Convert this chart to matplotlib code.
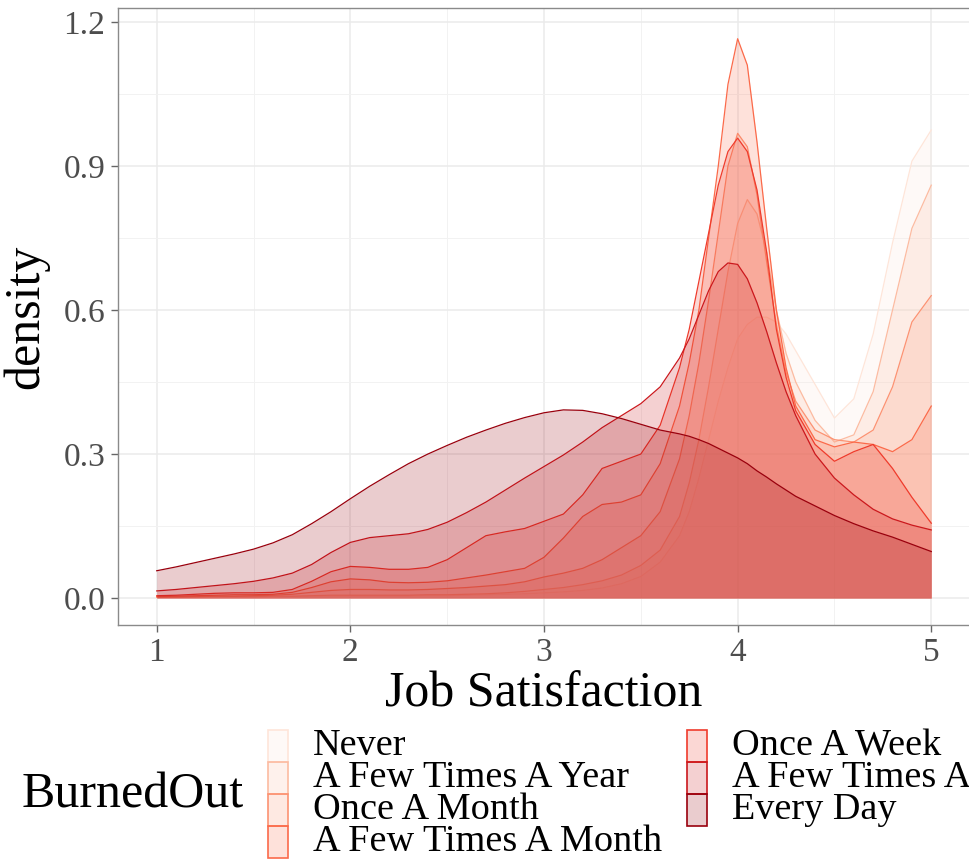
import matplotlib
matplotlib.use("Agg")
import matplotlib.pyplot as plt
from matplotlib.patches import Rectangle
from matplotlib.ticker import MultipleLocator

# Job Satisfaction grid the densities were read at
x = [1.0, 1.1, 1.2, 1.3, 1.4, 1.5, 1.6, 1.7, 1.8, 1.9, 2.0,
     2.1, 2.2, 2.3, 2.4, 2.5, 2.6, 2.7, 2.8, 2.9, 3.0,
     3.1, 3.2, 3.3, 3.4, 3.5, 3.6, 3.7,
     3.75, 3.8, 3.85, 3.9, 3.95, 4.0, 4.05, 4.1, 4.15, 4.2, 4.25, 4.3,
     4.4, 4.5, 4.6, 4.7, 4.8, 4.9, 5.0]

never = [0.002, 0.002, 0.002, 0.002, 0.002, 0.002, 0.002, 0.003, 0.003, 0.003, 0.004,
         0.004, 0.004, 0.004, 0.005, 0.005, 0.006, 0.007, 0.008, 0.009, 0.011,
         0.013, 0.016, 0.021, 0.03, 0.045, 0.075, 0.13,
         0.18, 0.25, 0.33, 0.41, 0.48, 0.54, 0.57, 0.585, 0.585, 0.575, 0.55, 0.515,
         0.445, 0.375, 0.415, 0.55, 0.74, 0.91, 0.975]
few_year = [0.003, 0.003, 0.003, 0.003, 0.003, 0.003, 0.004, 0.004, 0.005, 0.006, 0.006,
            0.006, 0.006, 0.006, 0.007, 0.007, 0.008, 0.009, 0.011, 0.014, 0.018,
            0.022, 0.028, 0.036, 0.048, 0.068, 0.1, 0.17,
            0.24, 0.33, 0.44, 0.56, 0.68, 0.78, 0.83, 0.8, 0.72, 0.6, 0.51, 0.45,
            0.37, 0.325, 0.34, 0.43, 0.6, 0.77, 0.86]
once_month = [0.002, 0.002, 0.003, 0.004, 0.004, 0.005, 0.006, 0.008, 0.012, 0.016, 0.018,
              0.018, 0.017, 0.017, 0.018, 0.02, 0.022, 0.025, 0.028, 0.034, 0.044,
              0.052, 0.062, 0.08, 0.105, 0.13, 0.18, 0.29,
              0.38, 0.49, 0.62, 0.76, 0.9, 0.968, 0.94, 0.84, 0.7, 0.57, 0.47, 0.41,
              0.35, 0.33, 0.325, 0.35, 0.44, 0.575, 0.63]
few_month = [0.003, 0.004, 0.005, 0.006, 0.007, 0.007, 0.008, 0.012, 0.022, 0.034, 0.04,
             0.038, 0.033, 0.032, 0.033, 0.036, 0.042, 0.048, 0.055, 0.062, 0.085,
             0.125, 0.17, 0.195, 0.2, 0.215, 0.28, 0.4,
             0.49, 0.6, 0.75, 0.9, 1.07, 1.165, 1.11, 0.95, 0.77, 0.6, 0.48, 0.4,
             0.33, 0.315, 0.325, 0.32, 0.305, 0.33, 0.40]
once_week = [0.005, 0.006, 0.008, 0.01, 0.011, 0.011, 0.012, 0.018, 0.035, 0.055, 0.066,
             0.064, 0.06, 0.06, 0.064, 0.08, 0.105, 0.13, 0.138, 0.145, 0.16,
             0.175, 0.215, 0.27, 0.285, 0.3, 0.36, 0.48,
             0.56, 0.66, 0.76, 0.86, 0.93, 0.958, 0.93, 0.85, 0.72, 0.56, 0.46, 0.39,
             0.32, 0.285, 0.305, 0.32, 0.27, 0.21, 0.156]
few_week = [0.015, 0.018, 0.022, 0.026, 0.03, 0.035, 0.042, 0.052, 0.07, 0.095, 0.116,
            0.126, 0.13, 0.134, 0.143, 0.158, 0.178, 0.2, 0.225, 0.25, 0.274,
            0.298, 0.325, 0.355, 0.38, 0.405, 0.44, 0.5,
            0.54, 0.59, 0.64, 0.68, 0.698, 0.695, 0.665, 0.615, 0.555, 0.49, 0.43, 0.38,
            0.3, 0.25, 0.215, 0.185, 0.165, 0.152, 0.142]
every_day = [0.057, 0.065, 0.074, 0.083, 0.092, 0.102, 0.115, 0.132, 0.155, 0.18, 0.207,
             0.233, 0.257, 0.28, 0.3, 0.318, 0.335, 0.35, 0.364, 0.376, 0.386,
             0.392, 0.391, 0.384, 0.374, 0.362, 0.35, 0.342,
             0.337, 0.33, 0.322, 0.312, 0.302, 0.292, 0.28, 0.265, 0.252, 0.238, 0.225, 0.212,
             0.192, 0.172, 0.155, 0.14, 0.127, 0.112, 0.097]

levels = ["Never", "A Few Times A Year", "Once A Month", "A Few Times A Month",
          "Once A Week", "A Few Times A Week", "Every Day"]
series = [never, few_year, once_month, few_month, once_week, few_week, every_day]
colors = ["#FEE5D9", "#FCBBA1", "#FC9272", "#FB6A4A", "#EF3B2C", "#CB181D", "#99000D"]
alpha = 0.2

W, H = 969, 859
fig = plt.figure(figsize=(W / 100, H / 100), dpi=100)
plt.rcParams["font.family"] = ["Liberation Serif", "DejaVu Serif"]


def fx(px):
    return px / W


def fy(py):
    # py measured from the top of the image
    return 1 - py / H


left, right, top, bottom = 118, 970, 8, 625
ax = fig.add_axes([fx(left), fy(bottom), fx(right - left), (bottom - top) / H])

for i, (ys, c) in enumerate(zip(series, colors)):
    ax.fill_between(x, 0, ys, color=c, alpha=alpha, lw=0, zorder=3 + 2 * i)
    ax.plot(x, ys, color=c, lw=0.9, solid_joinstyle="round", zorder=4 + 2 * i)

ax.set_xlim(0.8, 5.2)
ax.set_ylim(-0.056, 1.229)
ax.xaxis.set_major_locator(MultipleLocator(1))
ax.xaxis.set_minor_locator(MultipleLocator(0.5))
ax.yaxis.set_minor_locator(MultipleLocator(0.15))
ax.set_yticks([0, 0.3, 0.6, 0.9, 1.2])
ax.set_yticklabels(["0.0", "0.3", "0.6", "0.9", "1.2"])
ax.grid(which="major", color="#ebebeb", lw=1.1, zorder=0)
ax.grid(which="minor", color="#f2f2f2", lw=0.7, zorder=0)
ax.set_axisbelow(True)
for s in ax.spines.values():
    s.set_color("#8a8a8a")
    s.set_linewidth(1.0)
ax.tick_params(which="major", length=5, width=1, color="#666666",
               labelsize=24, labelcolor="#4d4d4d", pad=4)
ax.tick_params(which="minor", length=0)

ax.set_xlabel("Job Satisfaction", fontsize=36, labelpad=2)
ax.set_ylabel("density", fontsize=36, labelpad=10)

# legend drawn by hand, laid out like the ggplot bottom legend
fig.text(fx(22), fy(795), "BurnedOut", fontsize=36, va="center", ha="left")
key_w, key_h, row0 = 20, 32, 730
cols = [(268, 313), (687, 732)]
for i, (lab, c) in enumerate(zip(levels, colors)):
    col, row = divmod(i, 4)
    kx, tx = cols[col]
    ky = row0 + row * key_h
    fig.add_artist(Rectangle((fx(kx), fy(ky + key_h)), key_w / W, key_h / H,
                             transform=fig.transFigure, facecolor=c, alpha=alpha, lw=0))
    fig.add_artist(Rectangle((fx(kx), fy(ky + key_h)), key_w / W, key_h / H,
                             transform=fig.transFigure, facecolor="none", edgecolor=c, lw=1.2))
    fig.text(fx(tx), fy(ky + key_h / 2), lab, fontsize=27.5, va="center", ha="left")

fig.savefig("out.png", dpi=100)
